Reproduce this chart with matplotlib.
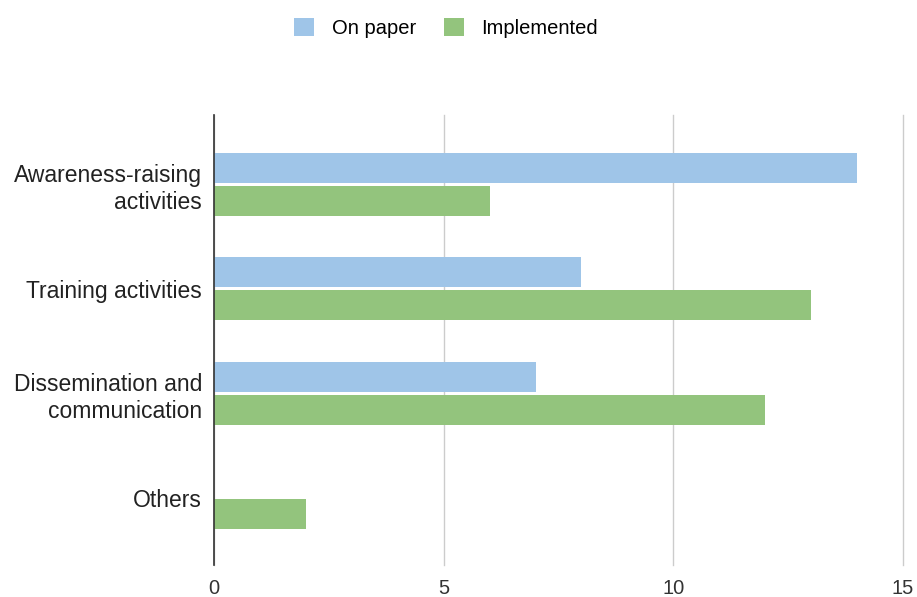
import numpy as np
import matplotlib.pyplot as plt
from matplotlib.patches import Patch

plt.rcParams["font.family"] = ["Liberation Sans", "DejaVu Sans"]

categorias = ["Awareness-raising\nactivities", "Training activities",
              "Dissemination and\ncommunication", "Others"]
on_paper = [14, 8, 7, 0]
implementado = [6, 13, 12, 2]

azul = "#9fc5e8"
verde = "#93c47d"

fig = plt.figure(figsize=(9.17, 5.97), dpi=100)
ax = fig.add_axes([214/917, 1-565/597, (903-214)/917, (565-115)/597])

y = np.arange(len(categorias))
h = 0.287
off = 0.158
ax.barh(y - off, on_paper, height=h, color=azul, zorder=3)
ax.barh(y + off, implementado, height=h, color=verde, zorder=3)

ax.set_ylim(3.646, -0.665)
ax.set_xlim(0, 15)
ax.set_xticks([0, 5, 10, 15])
ax.set_yticks(y)
ax.set_yticklabels(categorias, fontsize=16.5, color="#222222", linespacing=1.22)
ax.tick_params(axis="x", labelsize=14.5, colors="#333333", length=0, pad=10)
ax.tick_params(axis="y", length=0, pad=8.5)
ax.grid(axis="x", color="#cccccc", linewidth=1, zorder=0)
for gl in ax.get_xgridlines():
    gl.set_clip_on(False)
for s in ["top", "right", "bottom"]:
    ax.spines[s].set_visible(False)
ax.spines["left"].set_color("#333333")
ax.spines["left"].set_linewidth(1.2)
ax.spines["left"].set_zorder(4)

handles = [Patch(facecolor=azul, label="On paper"), Patch(facecolor=verde, label="Implemented")]
fig.legend(handles=handles, loc="center", bbox_to_anchor=(0.4865, 1-28/597), ncol=2,
           frameon=False, fontsize=14.5, handlelength=1.0, handleheight=1.0,
           columnspacing=1.4, handletextpad=0.85)

fig.savefig("out.png", dpi=100)
